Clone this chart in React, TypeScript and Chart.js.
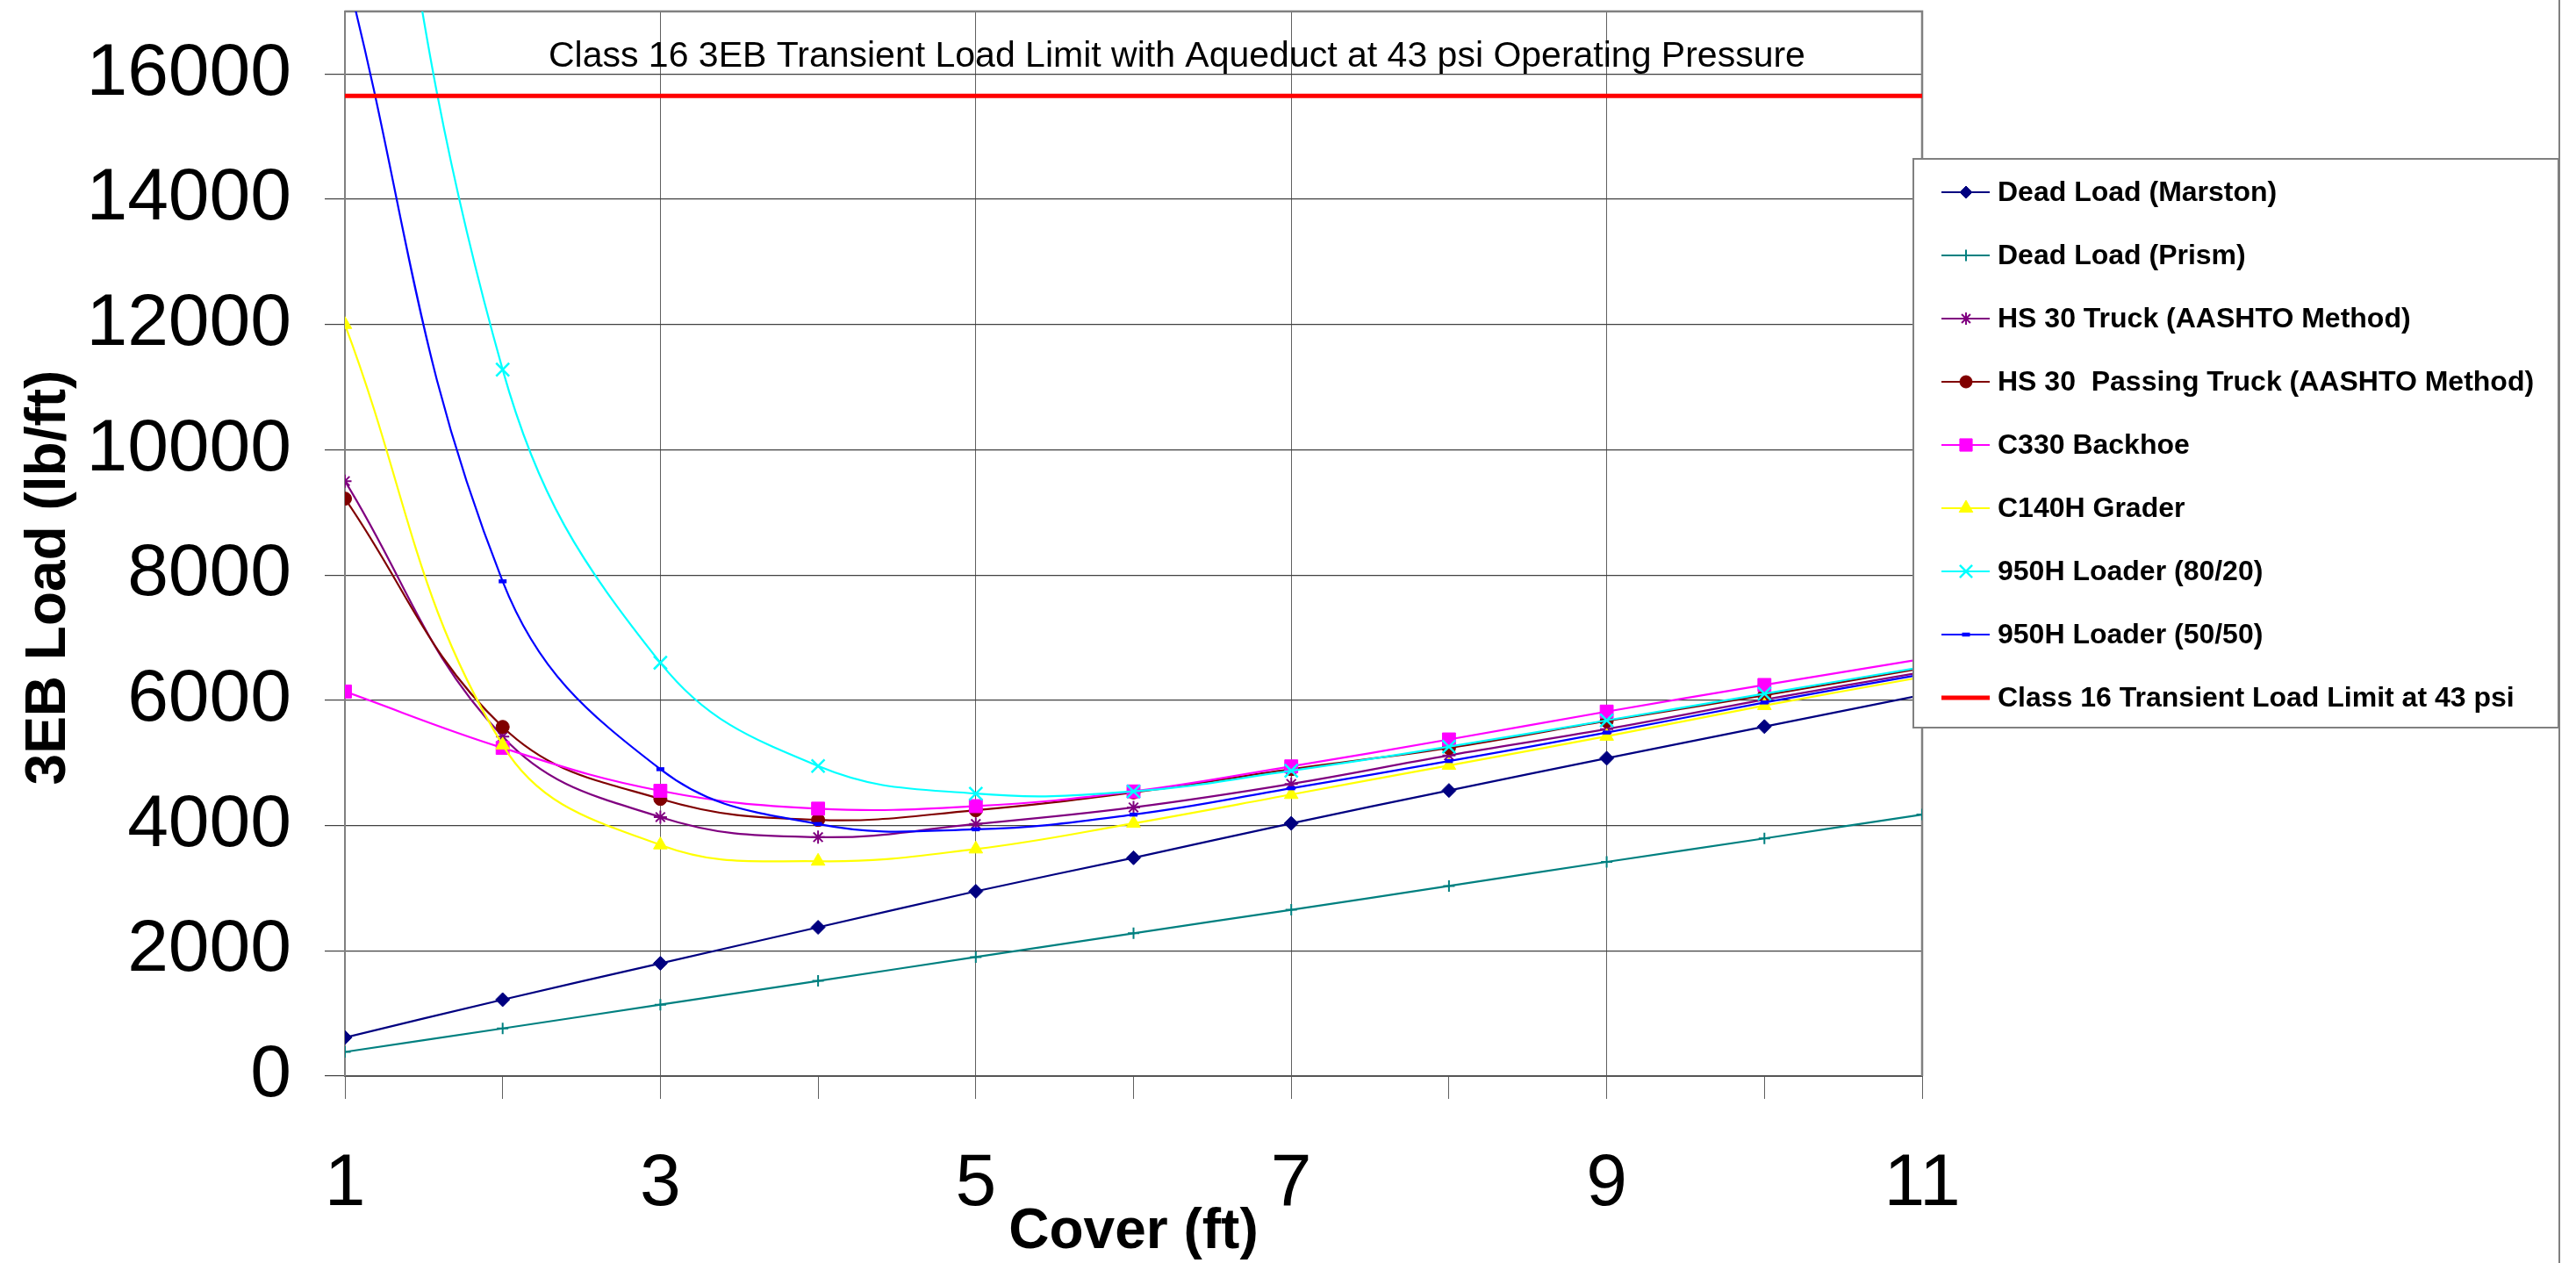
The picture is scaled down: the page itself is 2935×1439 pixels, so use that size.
import React, { useEffect, useRef } from 'react';
import { Chart, registerables } from 'chart.js';
import { drawPoint } from 'chart.js/helpers';

Chart.register(...registerables);

const FONT = "'Liberation Sans', Arial, Helvetica, sans-serif";

const chartTitle = 'Class 16 3EB Transient Load Limit with Aqueduct at 43 psi Operating Pressure';
const xAxisTitle = 'Cover (ft)';
const yAxisTitle = '3EB Load (lb/ft)';

// Cover depth (ft)
const cover = [1, 2, 3, 4, 5, 6, 7, 8, 9, 10, 11];

// Loads (lb/ft)
const deadLoadMarston = [615, 1220, 1800, 2375, 2950, 3485, 4035, 4560, 5075, 5580, 6085];
const deadLoadPrism = [385, 760, 1140, 1520, 1900, 2280, 2655, 3035, 3420, 3795, 4175];
const hs30Truck = [9500, 5420, 4135, 3815, 4025, 4290, 4665, 5120, 5540, 6010, 6450];
const hs30PassingTruck = [9220, 5575, 4425, 4090, 4245, 4530, 4900, 5240, 5670, 6080, 6510];
const c330Backhoe = [6140, 5240, 4555, 4270, 4310, 4545, 4945, 5375, 5820, 6245, 6660];
const c140hGrader = [12000, 5285, 3690, 3430, 3625, 4035, 4495, 4960, 5425, 5915, 6370];
const loader8020 = [24500, 11280, 6600, 4950, 4510, 4545, 4875, 5260, 5680, 6105, 6530];
const loader5050 = [17700, 7900, 4900, 4025, 3940, 4175, 4595, 5030, 5485, 5965, 6415];
const transientLoadLimit = 15650;

const seriesNames = [
  'Dead Load (Marston)',
  'Dead Load (Prism)',
  'HS 30 Truck (AASHTO Method)',
  'HS 30  Passing Truck (AASHTO Method)',
  'C330 Backhoe',
  'C140H Grader',
  '950H Loader (80/20)',
  '950H Loader (50/50)',
  'Class 16 Transient Load Limit at 43 psi',
];

const yTickValues = [0, 2000, 4000, 6000, 8000, 10000, 12000, 14000, 16000];
const xTickLabelValues = [1, 3, 5, 7, 9, 11];

type Style = {
  color: string;
  pointStyle: any;
  radius: number;
  legendRadius: number;
  pointBorderWidth: number;
  lineWidth: number;
};

const styles: Style[] = [
  { color: '#000080', pointStyle: 'rectRot', radius: 8, legendRadius: 7, pointBorderWidth: 1, lineWidth: 2.2 },
  { color: '#008080', pointStyle: 'cross', radius: 6.5, legendRadius: 6.5, pointBorderWidth: 2, lineWidth: 2.2 },
  { color: '#800080', pointStyle: 'star', radius: 7.5, legendRadius: 7, pointBorderWidth: 2, lineWidth: 2.2 },
  { color: '#800000', pointStyle: 'circle', radius: 7.5, legendRadius: 7, pointBorderWidth: 1, lineWidth: 2.2 },
  { color: '#FF00FF', pointStyle: 'rect', radius: 10.5, legendRadius: 10, pointBorderWidth: 1, lineWidth: 2.2 },
  { color: '#FFFF00', pointStyle: 'triangle', radius: 9, legendRadius: 9, pointBorderWidth: 1, lineWidth: 2.2 },
  { color: '#00FFFF', pointStyle: 'crossRot', radius: 10.5, legendRadius: 10, pointBorderWidth: 2.5, lineWidth: 2.2 },
  { color: '#0000FF', pointStyle: 'line', radius: 4.5, legendRadius: 4.5, pointBorderWidth: 4.5, lineWidth: 2.2 },
  { color: '#FF0000', pointStyle: false, radius: 0, legendRadius: 0, pointBorderWidth: 0, lineWidth: 5 },
];

const seriesValues = [
  deadLoadMarston,
  deadLoadPrism,
  hs30Truck,
  hs30PassingTruck,
  c330Backhoe,
  c140hGrader,
  loader8020,
  loader5050,
];

const frameAndTitlePlugin = {
  id: 'frameAndTitle',
  beforeDatasetsDraw(chart: any) {
    const { ctx, chartArea } = chart;
    ctx.save();
    ctx.strokeStyle = '#808080';
    ctx.lineWidth = 2.5;
    ctx.beginPath();
    ctx.moveTo(chartArea.left, chartArea.top);
    ctx.lineTo(chartArea.right, chartArea.top);
    ctx.lineTo(chartArea.right, chartArea.bottom);
    ctx.stroke();
    ctx.restore();
  },
  afterDraw(chart: any) {
    const { ctx, chartArea } = chart;
    ctx.save();
    // title inside the plot area
    ctx.fillStyle = '#000000';
    ctx.font = `41px ${FONT}`;
    ctx.textAlign = 'center';
    ctx.textBaseline = 'middle';
    const cx = chartArea.left + (chartArea.right - chartArea.left) * 0.5275;
    ctx.fillText(chartTitle, cx, chartArea.top + 52);

    // vertical axis title
    ctx.save();
    ctx.translate(56, 658);
    ctx.rotate(-Math.PI / 2);
    ctx.font = `bold 64px ${FONT}`;
    ctx.textAlign = 'center';
    ctx.textBaseline = 'middle';
    ctx.fillText(yAxisTitle, 0, 0);
    ctx.restore();

    // outer right border line
    ctx.strokeStyle = '#808080';
    ctx.lineWidth = 2;
    ctx.beginPath();
    ctx.moveTo(2916, 0);
    ctx.lineTo(2916, chart.height);
    ctx.stroke();

    // legend box
    const boxL = 2180, boxT = 181, boxR = 2915, boxB = 829;
    ctx.fillStyle = '#FFFFFF';
    ctx.fillRect(boxL, boxT, boxR - boxL, boxB - boxT);
    ctx.strokeStyle = '#808080';
    ctx.lineWidth = 2;
    ctx.strokeRect(boxL, boxT, boxR - boxL, boxB - boxT);

    const rowStart = 219;
    const rowGap = 72;
    const lineX0 = 2212, lineX1 = 2267, markX = 2240, textX = 2276;
    ctx.font = `bold 32px ${FONT}`;
    ctx.textAlign = 'left';
    ctx.textBaseline = 'middle';
    chart.data.datasets.forEach((ds: any, i: number) => {
      const st = styles[i];
      const y = rowStart + i * rowGap;
      ctx.strokeStyle = st.color;
      ctx.lineWidth = st.pointStyle ? 2 : st.lineWidth;
      ctx.beginPath();
      ctx.moveTo(lineX0, y);
      ctx.lineTo(lineX1, y);
      ctx.stroke();
      if (st.pointStyle) {
        ctx.fillStyle = st.color;
        ctx.strokeStyle = st.color;
        ctx.lineWidth = st.pointBorderWidth;
        drawPoint(ctx, { pointStyle: st.pointStyle, radius: st.legendRadius, borderWidth: st.pointBorderWidth, rotation: 0 } as any, markX, y);
      }
      ctx.fillStyle = '#000000';
      ctx.fillText(ds.label, textX, y + 1);
    });
    ctx.restore();
  },
};

export default function App() {
  const canvasRef = useRef<HTMLCanvasElement | null>(null);

  useEffect(() => {
    const canvas = canvasRef.current;
    if (!canvas) return;

    const datasets: any[] = seriesValues.map((vals, i) => {
      const st = styles[i];
      return {
        label: seriesNames[i],
        data: cover.map((c, j) => ({ x: c, y: vals[j] })),
        borderColor: st.color,
        backgroundColor: st.color,
        borderWidth: st.lineWidth,
        pointStyle: st.pointStyle,
        pointRadius: st.radius,
        pointBorderWidth: st.pointBorderWidth,
        pointBackgroundColor: st.color,
        pointBorderColor: st.color,
        tension: 0.4,
        fill: false,
        order: -i,
      };
    });
    datasets.push({
      label: seriesNames[8],
      data: [
        { x: cover[0], y: transientLoadLimit },
        { x: cover[cover.length - 1], y: transientLoadLimit },
      ],
      borderColor: styles[8].color,
      backgroundColor: styles[8].color,
      borderWidth: styles[8].lineWidth,
      pointRadius: 0,
      tension: 0,
      fill: false,
      order: -8,
    });

    const chart = new Chart(canvas, {
      type: 'line',
      data: { datasets },
      options: {
        animation: false,
        responsive: false,
        maintainAspectRatio: false,
        layout: { padding: { top: 11, right: 745, bottom: 0, left: 0 } },
        elements: { line: { capBezierPoints: false } },
        plugins: {
          legend: { display: false },
          tooltip: { enabled: false },
          title: { display: false },
        },
        scales: {
          x: {
            type: 'linear',
            min: 1,
            max: 11,
            ticks: {
              stepSize: 1,
              autoSkip: false,
              maxRotation: 0,
              padding: 47,
              color: '#000000',
              font: { family: FONT, size: 84 },
              callback: (v: any) => (xTickLabelValues.includes(Number(v)) ? String(v) : ''),
            },
            grid: {
              color: (c: any) => (c.tick && xTickLabelValues.includes(c.tick.value) ? '#606060' : 'rgba(0,0,0,0)'),
              tickColor: '#606060',
              tickLength: 26,
              lineWidth: 1,
            },
            border: { color: '#555555', width: 2 },
            title: {
              display: true,
              text: xAxisTitle,
              color: '#000000',
              font: { family: FONT, size: 64, weight: 'bold' },
              padding: { top: 0, bottom: -4 },
            },
            afterFit: (scale: any) => {
              scale.height = 213;
              scale.paddingLeft = 0;
              scale.paddingRight = 0;
            },
          },
          y: {
            type: 'linear',
            min: 0,
            max: 17000,
            afterBuildTicks: (scale: any) => {
              scale.ticks = yTickValues.map((v) => ({ value: v }));
            },
            ticks: {
              padding: 38,
              color: '#000000',
              font: { family: FONT, size: 84 },
              callback: (v: any) => String(v),
            },
            grid: {
              color: '#404040',
              tickColor: '#404040',
              tickLength: 23,
              lineWidth: 1.2,
            },
            border: { color: '#808080', width: 2 },
            title: { display: false, text: yAxisTitle },
            afterFit: (scale: any) => {
              scale.width = 393;
              scale.paddingTop = 0;
              scale.paddingBottom = 0;
            },
          },
        },
      } as any,
      plugins: [frameAndTitlePlugin],
    });

    return () => {
      chart.destroy();
    };
  }, []);

  return (
    <div style={{ position: 'fixed', left: 0, top: 0, width: 2935, height: 1439, background: '#ffffff' }}>
      <canvas ref={canvasRef} width={2935} height={1439} style={{ display: 'block', width: 2935, height: 1439 }} />
    </div>
  );
}
